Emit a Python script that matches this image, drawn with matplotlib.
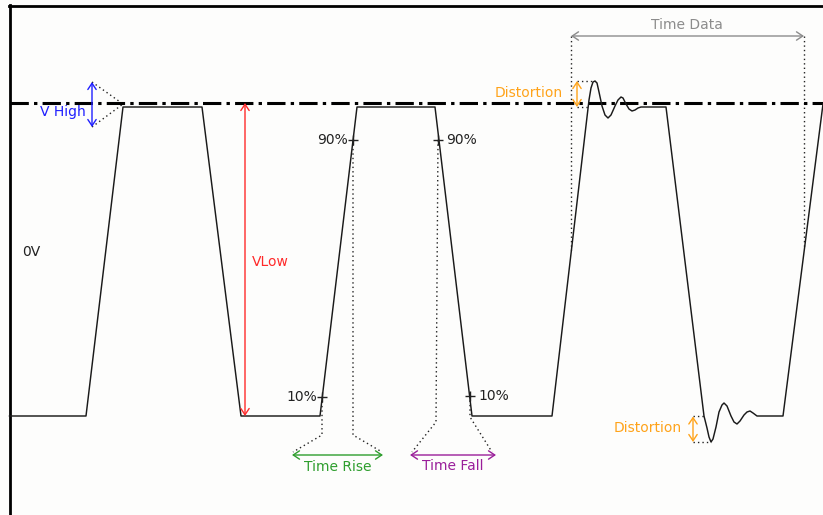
import matplotlib.pyplot as plt

# waveform vertices, in pixel units of the 823x515 canvas (y grows downwards)
wave_x = [9.5, 86, 123, 202, 241, 320, 357, 435, 472, 552, 589, 591, 593, 595, 597,
          599, 602, 605, 608, 611, 615, 618, 621, 623, 626, 629, 632, 635, 638, 641,
          666, 704, 707, 709, 711, 713, 716, 719, 722, 724, 727, 731, 734, 737, 740,
          744, 747, 750, 753, 757, 783, 823]
wave_y = [416, 416, 107, 107, 416, 416, 107, 107, 416, 416, 100, 88, 82, 81, 83,
          92, 106, 115, 118, 115, 106, 100, 97, 98, 104, 109, 111, 110, 108, 107,
          107, 416, 428, 437, 442, 439, 427, 412, 405, 403, 406, 416, 422, 424, 421,
          415, 412, 411, 413, 416, 416, 104]

ref_level = 103          # V high reference (dash-dot line)

# percentage markers on the edges
pct_x = [353, 438, 322, 470]
pct_y = [140, 140, 397, 396]
pct_labels = ['90%', '90%', '10%', '10%']
pct_side = ['left', 'right', 'left', 'right']

# dotted guide lines (each a polyline)
guides = [
    ([92, 123], [82, 104]), ([92, 123], [127, 104]),            # V High
    ([322, 322, 293], [397, 435, 452]), ([353, 353, 382], [140, 435, 452]),  # rise
    ([438, 436, 412], [140, 422, 452]), ([470, 470, 492], [396, 417, 452]),  # fall
    ([571, 571], [36, 250]), ([804, 804], [36, 248]),           # time data
    ([577, 595], [81, 81]), ([577, 590], [107, 107]),           # top distortion
    ([693, 705], [416.5, 416.5]), ([693, 711], [442, 442]),     # bottom distortion
]

# double arrows: (x0, y0, x1, y1, colour)
arrows = [
    (92, 82, 92, 127, '#1f1fff'),
    (245, 103, 245, 416, '#ff2a2a'),
    (292, 455, 383, 455, '#2e9e2e'),
    (410, 455, 496, 455, '#9a1e9a'),
    (571, 36, 804, 36, '#8c8c8c'),
    (577, 81, 577, 107, '#ffa31a'),
    (693, 416.5, 693, 442, '#ffa31a'),
]

# labels: (x, y, text, colour, ha)
labels = [
    (40, 112, 'V High', '#1f1fff', 'left'),
    (252, 262, 'VLow', '#ff2a2a', 'left'),
    (22, 252, '0V', '#222222', 'left'),
    (338, 467, 'Time Rise', '#2e9e2e', 'center'),
    (453, 466, 'Time Fall', '#9a1e9a', 'center'),
    (687, 25, 'Time Data', '#8c8c8c', 'center'),
    (563, 93, 'Distortion', '#ffa31a', 'right'),
    (682, 428, 'Distortion', '#ffa31a', 'right'),
]

fig = plt.figure(figsize=(8.23, 5.15), dpi=100, facecolor='#fdfdfc')
left, top = 9.5, 5.5
ax = fig.add_axes([left / 823, 0, 1 - left / 823, 1 - top / 515])
ax.set_facecolor('#fdfdfc')
ax.set_xlim(left, 823)
ax.set_ylim(515, top)
ax.set_xticks([])
ax.set_yticks([])
for s in ['right', 'bottom']:
    ax.spines[s].set_visible(False)
for s in ['left', 'top']:
    ax.spines[s].set_linewidth(2.0)
    ax.spines[s].set_color('black')

# reference line
ax.axhline(ref_level, color='black', lw=2.2, linestyle=(0, (6, 1.7, 1.1, 1.7)), zorder=2)

# guides
for gx, gy in guides:
    ax.plot(gx, gy, color='#222222', lw=1.0, linestyle=(0, (1, 2.2)), zorder=1)

# waveform
ax.plot(wave_x, wave_y, color='#1a1a1a', lw=1.05, zorder=3, clip_on=False)

# percentage markers
ax.plot(pct_x, pct_y, '+', color='#222222', ms=7, mew=1.0, zorder=4)
for x, y, t, side in zip(pct_x, pct_y, pct_labels, pct_side):
    if side == 'left':
        ax.text(x - 5, y, t, ha='right', va='center', fontsize=10, color='#222222')
    else:
        ax.text(x + 8, y, t, ha='left', va='center', fontsize=10, color='#222222')

# arrows
for x0, y0, x1, y1, c in arrows:
    ax.annotate('', xy=(x1, y1), xytext=(x0, y0),
                arrowprops=dict(arrowstyle='<->,head_length=0.45,head_width=0.3',
                                color=c, lw=1.0, shrinkA=0, shrinkB=0))

# labels
for x, y, t, c, ha in labels:
    ax.text(x, y, t, ha=ha, va='center', fontsize=10, color=c)

fig.savefig('out.png', dpi=100, facecolor=fig.get_facecolor())
